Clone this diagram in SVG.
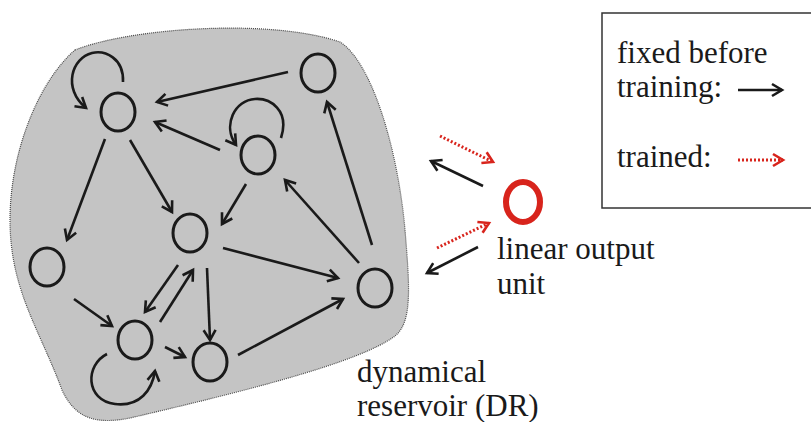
<svg xmlns="http://www.w3.org/2000/svg" width="811" height="422" viewBox="0 0 811 422">
<defs>
<marker id="ah" markerUnits="userSpaceOnUse" markerWidth="16" markerHeight="16" refX="11" refY="7" orient="auto" viewBox="0 0 16 14">
<path d="M1,1 L11,7 L1,13" fill="none" stroke="#1a1a1a" stroke-width="2.6"/>
</marker>
<marker id="ahr" markerUnits="userSpaceOnUse" markerWidth="16" markerHeight="16" refX="11" refY="7" orient="auto" viewBox="0 0 16 14">
<path d="M1,1 L11,7 L1,13" fill="none" stroke="#d8241c" stroke-width="2.6"/>
</marker>
</defs>
<style>
.node{fill:none;stroke:#1a1a1a;stroke-width:3}
.e{fill:none;stroke:#1a1a1a;stroke-width:2.6;marker-end:url(#ah)}
.t{fill:none;stroke:#d8241c;stroke-width:3;stroke-dasharray:2 2;marker-end:url(#ahr)}
text{font-family:'Liberation Serif','Times New Roman',serif;font-size:31px;fill:#1a1a1a}
</style>
<g id="reservoir">
<path d="M75,50 C130,28 270,18 340,42 C372,62 398,150 405,230 C410,290 412,322 395,336 C360,362 250,390 130,418 C95,425 75,418 62,390 C40,330 10,290 10,220 C10,150 40,80 75,50 Z" fill="#c4c4c4" stroke="#4a4a4a" stroke-width="1.2" stroke-dasharray="1 1"/>
</g>
<g id="connectors">
<path class="e" d="M288,72 L157,102"/>
<path class="e" d="M220,150 L155,122"/>
<path class="e" d="M105,139 L67,240"/>
<path class="e" d="M130,140 L172,212"/>
<path class="e" d="M246,184 L222,224"/>
<path class="e" d="M359,263 L285,180"/>
<path class="e" d="M372,245 L327,102"/>
<path class="e" d="M223,248 L338,278"/>
<path class="e" d="M238,355 L343,299"/>
<path class="e" d="M178,265 L145,312"/>
<path class="e" d="M160,322 L193,270"/>
<path class="e" d="M207,268 L210,340"/>
<path class="e" d="M74,299 L112,326"/>
<path class="e" d="M165,347 L185,357"/>
<path class="e" d="M123,82 C124,58 105,50 92,53 C72,58 62,88 86,108"/>
<path class="e" d="M281,138 C290,110 270,98 255,99 C235,100 222,125 236,145"/>
<path class="e" d="M107,354 C85,365 85,400 115,404 C140,407 152,390 155,371"/>
<path class="t" d="M440,136 L493,162"/>
<path class="e" d="M483,186 L431,161"/>
<path class="t" d="M437,248 L489,223"/>
<path class="e" d="M478,247 L427,273"/>
</g>
<g id="n1"><ellipse class="node" cx="118" cy="112" rx="17" ry="19"/></g>
<g id="n2"><ellipse class="node" cx="318" cy="73" rx="17" ry="19"/></g>
<g id="n3"><ellipse class="node" cx="258" cy="155" rx="17" ry="19"/></g>
<g id="n4"><ellipse class="node" cx="190" cy="233" rx="17" ry="19"/></g>
<g id="n5"><ellipse class="node" cx="47" cy="267" rx="17" ry="19"/></g>
<g id="n6"><ellipse class="node" cx="135" cy="340" rx="17" ry="19"/></g>
<g id="n7"><ellipse class="node" cx="210" cy="362" rx="17" ry="19"/></g>
<g id="n8"><ellipse class="node" cx="375" cy="288" rx="17" ry="19"/></g>
<g id="output">
<ellipse cx="523" cy="202" rx="17" ry="20" fill="none" stroke="#d8241c" stroke-width="6"/>
<text x="497" y="259">linear output</text>
<text x="497" y="294">unit</text>
</g>
<g id="dr-label">
<text x="357" y="382">dynamical</text>
<text x="357" y="416">reservoir (DR)</text>
</g>
<g id="legend">
<rect x="602" y="13" width="215" height="195" fill="#fff" stroke="#333" stroke-width="1.5"/>
<text x="617" y="63">fixed before</text>
<text x="617" y="97">training:</text>
<path class="e" d="M738,90 L782,90"/>
<text x="617" y="167">trained:</text>
<path class="t" d="M738,160 L783,160"/>
</g>
</svg>
